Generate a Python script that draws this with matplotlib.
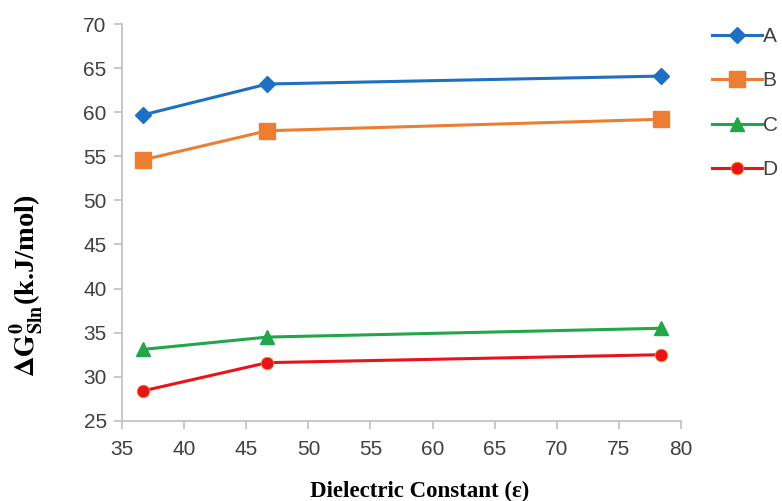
import matplotlib
matplotlib.use("Agg")
import matplotlib.pyplot as plt

dielectric = [36.7, 46.7, 78.4]
series_names = ["A", "B", "C", "D"]
A = [59.7, 63.2, 64.1]
B = [54.6, 57.9, 59.2]
C = [33.1, 34.5, 35.5]
D = [28.4, 31.6, 32.5]
xticks = [35, 40, 45, 50, 55, 60, 65, 70, 75, 80]
yticks = [25, 30, 35, 40, 45, 50, 55, 60, 65, 70]

plt.rcParams['mathtext.fontset'] = 'stix'

fig = plt.figure(figsize=(7.82, 5.01), dpi=100)
ax = fig.add_axes([0.156, 0.160, 0.715, 0.792])

styles = [
    dict(color='#1F6FC3', marker='D', markersize=8, mec='#1F6FC3'),
    dict(color='#ED7D31', marker='s', markersize=11, mec='#ED7D31'),
    dict(color='#22A64A', marker='^', markersize=10, mec='#22A64A'),
    dict(color='#E8141B', marker='o', markersize=9, mec='#FF8A1A', mew=0.6),
]
data = [A, B, C, D]
handles = []
for name, ys, st in zip(series_names, data, styles):
    ln, = ax.plot(dielectric, ys, lw=2.2, label=name, **st)
    handles.append(ln)

ax.set_xlim(35, 80)
ax.set_ylim(25, 70)
ax.set_xticks(xticks)
ax.set_yticks(yticks)
for s in ['top', 'right']:
    ax.spines[s].set_visible(False)
for s in ['left', 'bottom']:
    ax.spines[s].set_color('#BFBFBF')
    ax.spines[s].set_linewidth(1.2)
ax.tick_params(axis='both', colors='#BFBFBF', labelcolor='#404040', labelsize=15, length=6, width=1.2)
ax.tick_params(axis='x', pad=8)
ax.tick_params(axis='y', pad=5)
for lab in ax.get_xticklabels() + ax.get_yticklabels():
    lab.set_family('Liberation Sans')

ax.set_xlabel('Dielectric Constant (ε)', fontsize=16.5, fontweight='bold', family='Liberation Serif')
ax.xaxis.set_label_coords(0.533, -0.152)
ax.set_ylabel(r'$\mathbf{\Delta G^{0}_{Sln}}$(k.J/mol)', fontsize=20.5, fontweight='bold', family='Liberation Serif')
ax.yaxis.set_label_coords(-0.137, 0.34)

leg = fig.legend(handles=handles, labels=series_names, loc='upper left', bbox_to_anchor=(0.91, 0.946),
                 frameon=False, fontsize=15, handlelength=2.4, labelspacing=1.22, handletextpad=0.05,
                 borderaxespad=0, borderpad=0)
for t in leg.get_texts():
    t.set_color('#404040')
    t.set_family('Liberation Sans')

fig.savefig('out.png', dpi=100)
